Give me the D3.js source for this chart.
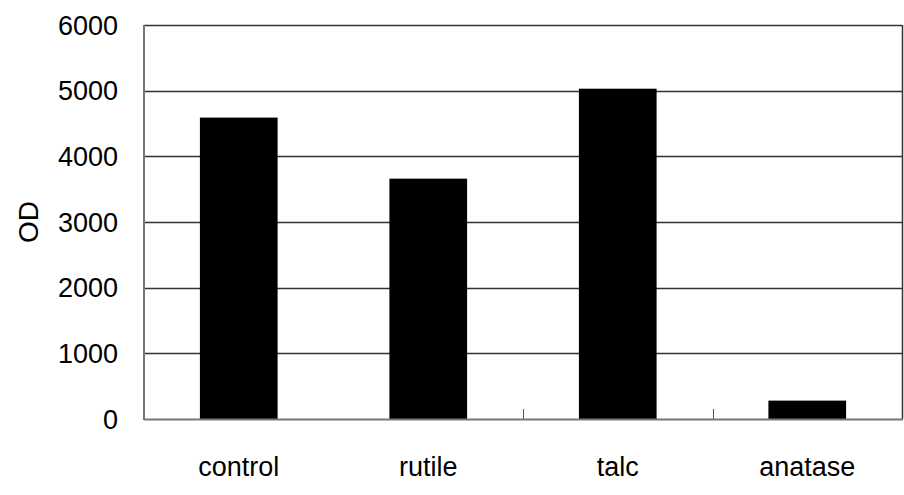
<!DOCTYPE html>
<html>
<head>
<meta charset="utf-8">
<script src="https://cdn.jsdelivr.net/npm/d3@7"></script>
<style>
  html, body { margin: 0; padding: 0; background: #fff; }
  svg { display: block; font-family: "Liberation Sans", Arial, sans-serif; }
</style>
</head>
<body>
<svg id="chart" width="904" height="495"></svg>
<script>
// OD measured for each treatment
const categories = ["control", "rutile", "talc", "anatase"];
const odValues = [4590, 3660, 5030, 280];
const yTicks = [0, 1000, 2000, 3000, 4000, 5000, 6000];
const yLabel = "OD";

const svg = d3.select("#chart");
const margin = { left: 144, right: 2, top: 25, bottom: 76 };
const W = 904, H = 495;
const x0 = margin.left, x1 = W - margin.right;
const y0 = H - margin.bottom, y1 = margin.top;
const fontSize = 27;

const x = d3.scaleBand().domain(categories).range([x0, x1]).paddingInner(0.59).paddingOuter(0.295);
const y = d3.scaleLinear().domain([0, 6000]).range([y0, y1]);

// horizontal gridlines
svg.append("g").selectAll("line").data(yTicks.filter(t => t > 0)).join("line")
  .attr("x1", x0).attr("x2", x1)
  .attr("y1", d => Math.round(y(d)) + 0.5).attr("y2", d => Math.round(y(d)) + 0.5)
  .attr("stroke", "#333").attr("stroke-width", 1.3);

// right border
svg.append("line").attr("x1", x1 + 0.5).attr("x2", x1 + 0.5).attr("y1", y1).attr("y2", y0)
  .attr("stroke", "#333").attr("stroke-width", 1.5);

// bars
svg.append("g").selectAll("rect").data(categories).join("rect")
  .attr("x", d => x(d))
  .attr("width", x.bandwidth())
  .attr("y", (d, i) => y(odValues[i]))
  .attr("height", (d, i) => y(0) - y(odValues[i]))
  .attr("fill", "#000");

// category boundary ticks pointing inward
const step = x.step();
svg.append("g").selectAll("line").data([2, 3]).join("line")
  .attr("x1", d => Math.round(x0 + d * step) + 0.5).attr("x2", d => Math.round(x0 + d * step) + 0.5)
  .attr("y1", y0).attr("y2", y0 - 10)
  .attr("stroke", "#555").attr("stroke-width", 1);

// axes lines
svg.append("line").attr("x1", x0).attr("x2", x0).attr("y1", y1).attr("y2", y0 + 1)
  .attr("stroke", "#777").attr("stroke-width", 2);
svg.append("line").attr("x1", x0).attr("x2", x1 + 1).attr("y1", y0 + 0.5).attr("y2", y0 + 0.5)
  .attr("stroke", "#777").attr("stroke-width", 2);

// y tick labels
svg.append("g").selectAll("text").data(yTicks).join("text")
  .attr("x", 118).attr("y", d => y(d))
  .attr("dy", "0.36em")
  .attr("text-anchor", "end")
  .attr("font-size", fontSize)
  .attr("fill", "#000")
  .text(d => d);

// x category labels
svg.append("g").selectAll("text").data(categories).join("text")
  .attr("x", d => x(d) + x.bandwidth() / 2).attr("y", 476)
  .attr("text-anchor", "middle")
  .attr("font-size", fontSize)
  .attr("fill", "#000")
  .text(d => d);

// y axis title
svg.append("text")
  .attr("transform", `translate(38, ${(y0 + y1) / 2}) rotate(-90)`)
  .attr("text-anchor", "middle")
  .attr("font-size", 28)
  .attr("fill", "#000")
  .text(yLabel);
</script>
</body>
</html>
